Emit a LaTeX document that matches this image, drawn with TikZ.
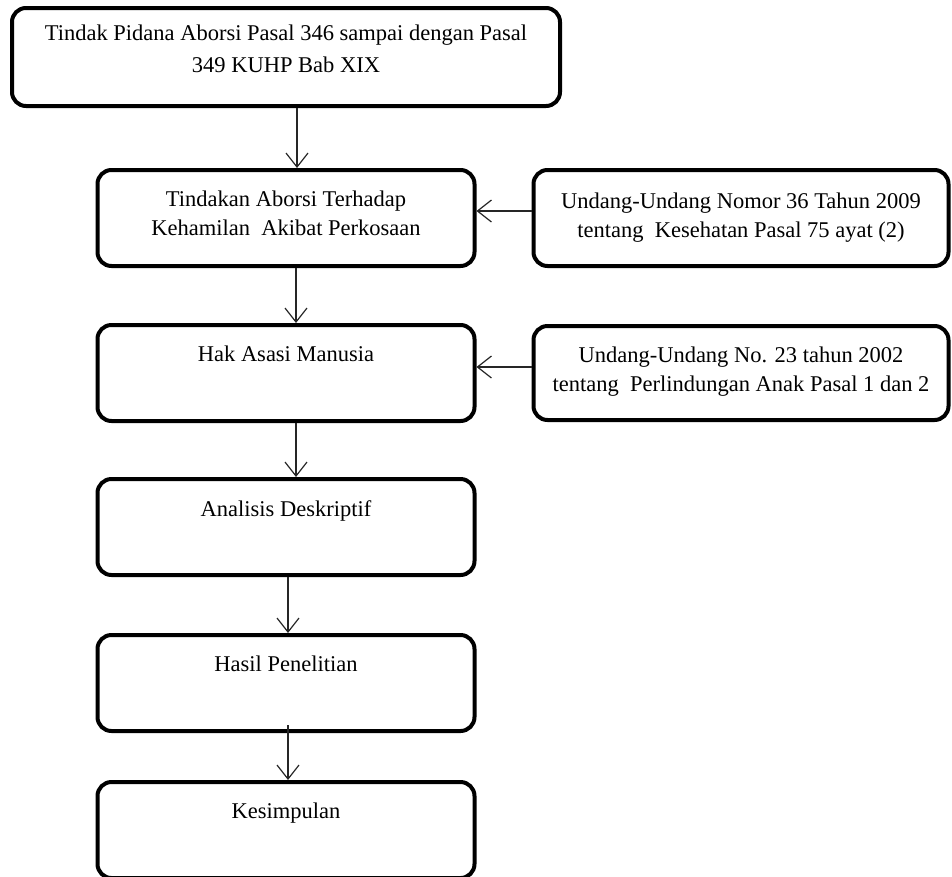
\documentclass[tikz,border=0pt]{standalone}
\usepackage{fontspec}
\setmainfont{Liberation Serif}
\usetikzlibrary{positioning, arrows.meta}
\tikzset{
	node distance=55pt,
	every text node part/.style= {
		align=center
	},
	tahap/.style= {
		rectangle,
		rounded corners=14pt,
		draw,
		line width=4pt,
		minimum width=377pt,
		minimum height=96pt,
		font=\fontsize{22.5}{29}\selectfont
	},
	dasar/.style= {
		tahap,
		minimum width=415pt
	},
	alur/.style= {
		-{Straight Barb[length=14pt, width=22pt]},
		line width=1.2pt,
		black!85
	},
}

\begin{document}
\begin{tikzpicture}[x=1pt, y=1pt]
		\useasboundingbox (0,0) rectangle (952,-876);

		\node (pidana) [tahap, minimum width=548pt, minimum height=98pt] at (286,-57) {Tindak Pidana Aborsi Pasal 346 sampai dengan Pasal\\[3pt]349 KUHP Bab XIX\\[-12pt]\mbox{}};
		\node (tindakan) [tahap, below=60pt of pidana] {Tindakan Aborsi Terhadap\\Kehamilan\ \ Akibat Perkosaan\\[-20pt]\mbox{}};
		\node (ham) [tahap, below=of tindakan] {Hak Asasi Manusia\\ \strut};
		\node (analisis) [tahap, below=54pt of ham] {Analisis Deskriptif\\ \strut};
		\node (hasil) [tahap, below=56pt of analisis] {Hasil Penelitian\\ \strut};
		\node (simpulan) [tahap, below=47pt of hasil] {Kesimpulan\\ \strut};

		\node (uukes) [dasar, right=of tindakan] {Undang-Undang Nomor 36 Tahun 2009\\tentang\ \ Kesehatan Pasal 75 ayat (2)};
		\node (uupa) [dasar, right=of ham, minimum height=94pt] {Undang-Undang No. 23 tahun 2002\\tentang\ \ Perlindungan Anak Pasal 1 dan 2\\[-21pt]\mbox{}};

		\draw[alur] ([xshift=11pt]pidana.south) to ([xshift=11pt]tindakan.north);
		\draw[alur] ([xshift=10pt]tindakan.south) to ([xshift=10pt]ham.north);
		\draw[alur] ([xshift=10pt]ham.south) to ([xshift=10pt]analisis.north);
		\draw[alur] ([xshift=2pt]analisis.south) to ([xshift=2pt]hasil.north);
		\draw[alur] ([xshift=2pt, yshift=8pt]hasil.south) to ([xshift=2pt]simpulan.north);
		\draw[alur] ([yshift=7pt]uukes.west) to ([yshift=7pt]uukes.west -| tindakan.east);
		\draw[alur] ([yshift=6pt]uupa.west) to ([yshift=6pt]uupa.west -| ham.east);
	\end{tikzpicture}
\end{document}
